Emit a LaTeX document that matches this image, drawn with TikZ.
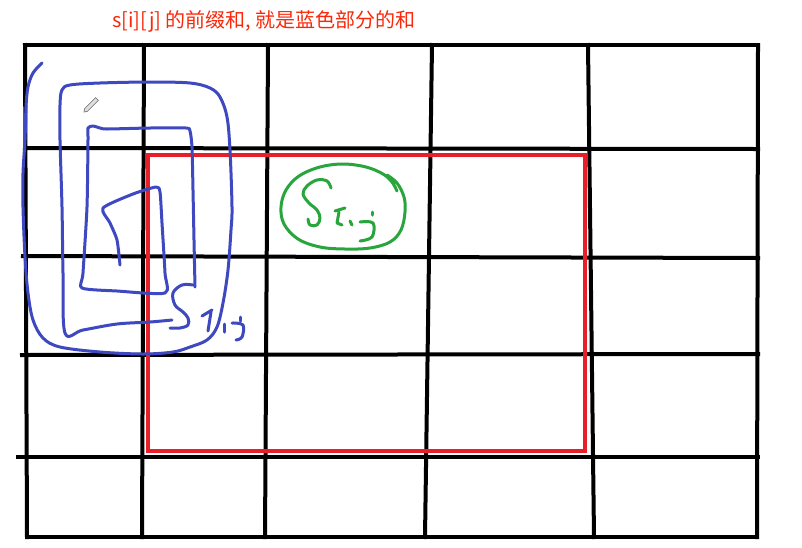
\documentclass[tikz,border=0pt]{standalone}
\usepackage{fontspec}
\newfontfamily\cjk{Noto Sans CJK SC}
\definecolor{titlered}{RGB}{250,40,10}
\definecolor{rectred}{RGB}{232,30,40}
\definecolor{penblue}{RGB}{62,72,192}
\definecolor{pengreen}{RGB}{40,165,60}
\begin{document}
\begin{tikzpicture}[x=1pt,y=-1pt,
  gridline/.style={line width=4pt, black, line cap=rect},
  redbox/.style={line width=3.6pt, rectred, line join=miter},
  bluepen/.style={line width=3pt, penblue, line cap=round, line join=round},
  greenpen/.style={line width=3pt, pengreen, line cap=round, line join=round},
  titletext/.style={font=\cjk\fontsize{20}{22}\selectfont, text=titlered, inner sep=0pt, anchor=west}]
\useasboundingbox (0,0) rectangle (802,547);
\fill[white] (0,0) rectangle (802,547);

% title
\node[titletext] (title) at (112,21) {s[i][j] 的前缀和, 就是蓝色部分的和};

% grid
\draw[gridline] (25,45) -- (758,45);
\draw[gridline] (25,148) -- (758,149);
\draw[gridline] (23,256) -- (758,258);
\draw[gridline] (22,355) -- (758,354);
\draw[gridline] (18,457) -- (758,457);
\draw[gridline] (27,537) -- (757,537);
\draw[gridline] (25,45) -- (27,537);
\draw[gridline] (144,45) -- (142,537);
\draw[gridline] (268,45) -- (265,537);
\draw[gridline] (432,45) -- (425,537);
\draw[gridline] (588,45) -- (594,537);
\draw[gridline] (758,45) -- (757,537);

% red rectangle
\draw[redbox] (148,155) rectangle (585,451);

% blue spiral: outer loops
\draw[bluepen] plot[smooth, tension=0.55] coordinates {
 (42,63) (33,73) (28,87) (26,107) (25,140) (23,173) (23,207) (25,257) (28,293)
 (33,320) (43,338) (60,347) (100,352) (143,354) (173,352) (190,347) (207,340)
 (217,327) (223,303) (228,270) (231,230) (232,207) (230,150) (227,117) (220,97)
 (210,88) (190,83) (150,82) (100,83) (70,85) (62,90) (60,105) (60,140) (62,207)
 (63,273) (65,333) (83,330) (117,324) (150,322) (172,320)};
% blue spiral: inner loops
\draw[bluepen] plot[smooth, tension=0.4] coordinates {
 (195,287) (194,240) (193,190) (192,147) (190,131) (186,128) (150,128) (107,129)
 (100,128) (93,126) (88,128) (88,140) (87,207) (83,273) (82,288) (117,291)
 (165,293) (165,273) (162,223) (160,192) (156,187) (133,194) (103,208) (110,223)
 (117,240) (120,265)};
% blue S_{i,j}
\draw[bluepen] plot[smooth, tension=0.6] coordinates {
 (193,285) (182,285) (173,293) (175,305) (183,312) (188,318) (188,325) (180,328) (170,328)};
\draw[bluepen] (202,316) -- (212,310);
\draw[bluepen] (211,312) -- (208,331);
\draw[bluepen] (224,324) -- (224,332);
\draw[bluepen] (240,317) -- (240,321);
\draw[bluepen] plot[smooth, tension=0.6] coordinates {(232,323) (243,325) (242,337) (236,340)};

% pencil cursor
\filldraw[fill=gray!25, draw=gray!80!black, line width=0.6pt]
  (84,112) -- (84.6,108.6) -- (95.6,97.6) -- (98.4,100.4) -- (87.4,111.4) -- cycle;

% green ellipse
\draw[greenpen] plot[smooth, tension=0.6] coordinates {
 (387,175) (397,183) (404,197) (405,212) (401,230) (390,242) (370,248) (345,249)
 (320,247) (298,239) (284,224) (281,207) (286,190) (299,176) (320,167) (343,164)
 (366,167) (383,174) (392,182) (397,191)};
% green S_{i,j}
\draw[greenpen] plot[smooth, tension=0.6] coordinates {
 (331,188) (327,181) (317,180) (307,186) (303,194) (309,203) (317,210) (320,218) (317,225) (310,225) (308,219)};
\draw[greenpen] (335,211) -- (345,208);
\draw[greenpen] (339,212) -- (337,223) -- (342,225);
\draw[greenpen] (350,221) -- (352,225);
\draw[greenpen] (372,212) -- (372,215);
\draw[greenpen] plot[smooth, tension=0.6] coordinates {(360,222) (373,223) (372,237) (360,241)};
\end{tikzpicture}
\end{document}
